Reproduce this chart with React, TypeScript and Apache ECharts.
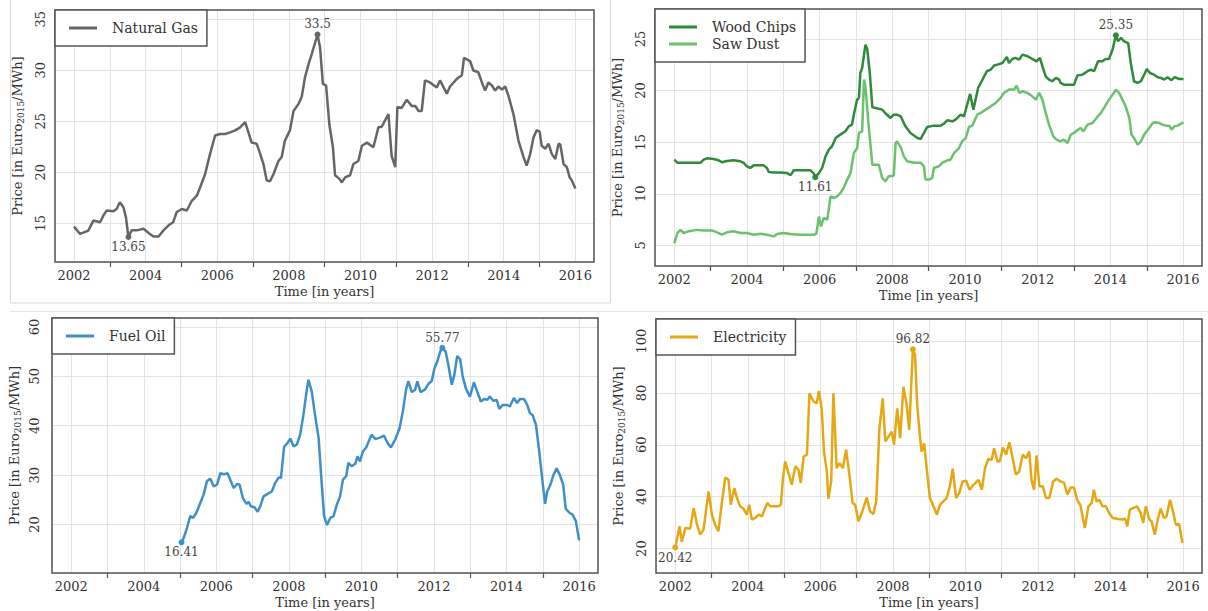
import React, { useEffect, useRef } from "react";
import * as echarts from "echarts";

const FONT = "DejaVu Serif";

const naturalGas: [number, number][] = [[2002.00,14.67],[2002.17,13.95],[2002.40,14.28],[2002.54,15.26],[2002.73,15.1],[2002.82,15.75],[2002.91,16.24],[2003.10,16.18],[2003.19,16.4],[2003.28,17.06],[2003.38,16.57],[2003.45,15.6],[2003.52,13.65],[2003.61,14.3],[2003.75,14.3],[2003.94,14.45],[2004.12,13.95],[2004.22,13.7],[2004.36,13.7],[2004.50,14.3],[2004.64,14.8],[2004.77,15.1],[2004.87,16.1],[2005.01,16.4],[2005.15,16.25],[2005.29,17.2],[2005.43,17.7],[2005.52,18.5],[2005.66,19.8],[2005.80,21.8],[2005.94,23.6],[2006.08,23.75],[2006.22,23.75],[2006.36,23.9],[2006.50,24.1],[2006.64,24.4],[2006.78,24.9],[2006.87,23.9],[2006.96,22.9],[2007.10,22.8],[2007.20,21.8],[2007.29,20.8],[2007.38,19.2],[2007.47,19.1],[2007.57,19.8],[2007.71,21.1],[2007.80,21.5],[2007.89,23.1],[2008.03,24.1],[2008.13,26.0],[2008.27,26.7],[2008.36,27.4],[2008.45,29.3],[2008.55,30.6],[2008.64,31.6],[2008.80,33.5],[2008.87,32.25],[2008.95,28.66],[2009.04,28.5],[2009.13,24.7],[2009.23,22.45],[2009.29,19.7],[2009.41,19.35],[2009.48,19.0],[2009.57,19.5],[2009.71,19.7],[2009.80,20.8],[2009.94,21.1],[2010.04,22.6],[2010.18,22.9],[2010.36,22.45],[2010.50,24.4],[2010.59,24.45],[2010.69,25.1],[2010.78,25.7],[2010.87,21.6],[2010.97,20.5],[2011.03,26.4],[2011.15,26.3],[2011.29,27.1],[2011.43,26.5],[2011.53,26.5],[2011.62,26.0],[2011.71,26.0],[2011.80,29.0],[2011.94,28.8],[2012.13,28.3],[2012.22,29.0],[2012.41,27.7],[2012.50,28.4],[2012.69,29.15],[2012.83,29.5],[2012.89,31.2],[2013.06,30.9],[2013.15,29.97],[2013.29,29.8],[2013.39,28.8],[2013.48,28.0],[2013.57,28.8],[2013.67,28.5],[2013.76,28.0],[2013.85,28.4],[2013.95,28.1],[2014.04,28.4],[2014.13,27.5],[2014.27,25.7],[2014.41,23.1],[2014.55,21.5],[2014.64,20.65],[2014.74,21.8],[2014.83,23.4],[2014.92,24.1],[2015.00,24.0],[2015.06,22.6],[2015.16,22.3],[2015.25,22.8],[2015.34,21.8],[2015.44,21.3],[2015.53,22.8],[2015.58,22.7],[2015.67,20.8],[2015.76,20.5],[2015.84,19.5],[2015.90,19.2],[2016.00,18.4]];

const woodChips: [number, number][] = [[2002.00,13.3],[2002.09,13.0],[2002.44,13.0],[2002.72,13.0],[2002.81,13.3],[2002.90,13.43],[2003.08,13.37],[2003.22,13.24],[2003.31,13.05],[2003.45,13.18],[2003.63,13.24],[2003.82,13.14],[2003.91,13.0],[2004.00,12.66],[2004.09,12.5],[2004.19,12.75],[2004.32,12.75],[2004.46,12.75],[2004.55,12.5],[2004.60,12.1],[2004.74,12.07],[2004.92,12.07],[2005.10,12.0],[2005.20,11.8],[2005.29,12.27],[2005.47,12.27],[2005.65,12.27],[2005.75,12.27],[2005.84,11.95],[2005.88,11.61],[2005.98,12.0],[2006.07,12.5],[2006.16,13.6],[2006.25,14.27],[2006.34,14.6],[2006.44,15.4],[2006.57,15.73],[2006.71,16.05],[2006.80,16.53],[2006.89,16.7],[2006.94,17.66],[2007.03,19.1],[2007.08,19.3],[2007.12,21.7],[2007.17,22.2],[2007.26,24.45],[2007.31,24.0],[2007.38,21.7],[2007.45,18.4],[2007.54,18.3],[2007.72,18.15],[2007.81,17.8],[2007.95,17.34],[2008.04,17.66],[2008.13,17.66],[2008.23,17.5],[2008.36,16.53],[2008.50,15.89],[2008.69,15.4],[2008.78,15.31],[2008.87,15.89],[2008.96,16.47],[2009.14,16.6],[2009.33,16.6],[2009.42,16.79],[2009.51,17.12],[2009.65,17.02],[2009.74,17.18],[2009.88,17.67],[2009.97,17.5],[2010.14,19.67],[2010.23,18.15],[2010.36,20.25],[2010.48,21.06],[2010.60,21.87],[2010.71,22.03],[2010.80,22.42],[2010.89,22.51],[2011.03,22.67],[2011.15,23.26],[2011.21,22.67],[2011.30,23.06],[2011.39,23.16],[2011.49,23.0],[2011.58,23.48],[2011.72,23.32],[2011.85,23.06],[2011.97,22.83],[2012.06,23.16],[2012.13,22.35],[2012.22,21.38],[2012.31,21.06],[2012.40,20.9],[2012.50,21.22],[2012.59,21.06],[2012.63,20.74],[2012.72,20.57],[2012.82,20.57],[2013.00,20.57],[2013.09,21.45],[2013.23,21.54],[2013.37,21.87],[2013.46,22.03],[2013.55,21.87],[2013.66,22.83],[2013.78,22.83],[2013.87,23.06],[2013.96,23.06],[2014.06,23.97],[2014.15,25.35],[2014.21,24.77],[2014.29,25.1],[2014.38,24.77],[2014.49,24.6],[2014.56,22.67],[2014.65,20.9],[2014.75,20.74],[2014.84,20.9],[2014.93,21.54],[2015.00,22.09],[2015.09,21.7],[2015.20,21.54],[2015.30,21.28],[2015.39,21.22],[2015.48,21.06],[2015.57,21.28],[2015.68,21.0],[2015.77,21.3],[2015.89,21.12],[2016.01,21.12]];

const sawDust: [number, number][] = [[2002.00,5.2],[2002.09,6.2],[2002.17,6.5],[2002.26,6.2],[2002.39,6.36],[2002.62,6.5],[2002.81,6.45],[2003.04,6.45],[2003.18,6.26],[2003.31,6.03],[2003.45,6.26],[2003.63,6.36],[2003.82,6.2],[2004.00,6.2],[2004.19,6.03],[2004.37,6.13],[2004.55,6.03],[2004.74,5.87],[2004.83,6.1],[2005.01,6.2],[2005.20,6.1],[2005.47,6.03],[2005.65,6.03],[2005.84,6.03],[2005.91,6.13],[2005.98,7.8],[2006.04,6.84],[2006.11,7.65],[2006.21,7.5],[2006.30,9.75],[2006.39,9.6],[2006.48,9.75],[2006.57,10.07],[2006.66,10.56],[2006.76,11.37],[2006.85,12.0],[2006.94,13.95],[2007.03,14.4],[2007.08,15.9],[2007.17,16.05],[2007.22,21.06],[2007.26,20.4],[2007.35,16.53],[2007.45,12.82],[2007.54,12.82],[2007.63,12.82],[2007.72,11.53],[2007.81,11.2],[2007.90,11.7],[2008.04,11.75],[2008.09,14.9],[2008.13,15.08],[2008.23,14.5],[2008.32,13.6],[2008.41,13.14],[2008.59,13.0],[2008.78,13.0],[2008.87,12.66],[2008.91,11.37],[2009.01,11.37],[2009.10,11.53],[2009.14,12.5],[2009.28,12.66],[2009.37,13.0],[2009.51,13.24],[2009.60,13.3],[2009.70,13.95],[2009.83,14.4],[2009.92,15.08],[2010.02,15.4],[2010.11,16.47],[2010.20,16.6],[2010.34,17.67],[2010.43,17.83],[2010.57,18.15],[2010.71,18.47],[2010.84,18.8],[2010.98,19.28],[2011.07,19.77],[2011.21,20.09],[2011.35,20.09],[2011.42,20.48],[2011.49,19.77],[2011.58,19.93],[2011.72,19.77],[2011.85,19.44],[2011.95,19.12],[2012.04,19.77],[2012.13,19.12],[2012.22,17.83],[2012.31,16.7],[2012.43,15.56],[2012.52,15.24],[2012.62,15.08],[2012.72,15.24],[2012.82,14.92],[2012.91,15.73],[2013.00,15.89],[2013.09,16.15],[2013.18,16.37],[2013.26,16.05],[2013.37,16.7],[2013.51,16.86],[2013.64,17.44],[2013.74,17.83],[2013.85,18.47],[2013.96,19.12],[2014.06,19.6],[2014.15,20.09],[2014.24,19.77],[2014.33,19.12],[2014.42,18.47],[2014.52,17.34],[2014.58,15.73],[2014.65,15.4],[2014.75,14.76],[2014.84,15.08],[2014.93,15.73],[2015.07,16.37],[2015.16,16.86],[2015.25,16.92],[2015.34,16.86],[2015.43,16.7],[2015.53,16.6],[2015.62,16.6],[2015.68,16.2],[2015.76,16.53],[2015.85,16.6],[2015.94,16.79],[2016.01,16.92]];

const fuelOil: [number, number][] = [[2005.04,16.41],[2005.10,17.3],[2005.19,19.3],[2005.28,21.7],[2005.36,21.35],[2005.45,22.4],[2005.56,24.4],[2005.65,26.1],[2005.74,28.75],[2005.83,29.3],[2005.93,27.7],[2006.02,28.1],[2006.11,30.4],[2006.22,30.2],[2006.31,30.4],[2006.40,28.75],[2006.48,27.4],[2006.57,28.2],[2006.64,28.1],[2006.73,25.4],[2006.83,24.2],[2006.89,24.6],[2006.95,23.7],[2007.05,23.5],[2007.14,22.6],[2007.21,23.7],[2007.30,25.7],[2007.39,26.1],[2007.53,26.7],[2007.62,28.4],[2007.72,29.56],[2007.78,29.4],[2007.87,35.8],[2007.96,36.5],[2008.04,37.4],[2008.13,35.8],[2008.22,36.2],[2008.31,38.2],[2008.40,42.2],[2008.50,47.6],[2008.54,49.3],[2008.63,46.9],[2008.72,42.2],[2008.82,37.5],[2008.88,30.8],[2008.97,21.7],[2009.05,19.9],[2009.14,21.35],[2009.23,21.7],[2009.32,24.0],[2009.41,25.7],[2009.49,29.1],[2009.58,29.8],[2009.64,32.5],[2009.73,31.8],[2009.83,32.3],[2009.89,33.8],[2009.96,32.8],[2010.04,34.8],[2010.13,35.6],[2010.28,38.2],[2010.38,37.3],[2010.51,37.6],[2010.62,38.0],[2010.72,36.5],[2010.81,35.6],[2010.93,37.2],[2011.05,39.5],[2011.14,42.9],[2011.23,47.3],[2011.29,49.0],[2011.39,46.8],[2011.48,47.3],[2011.54,49.0],[2011.63,46.8],[2011.75,47.3],[2011.84,48.4],[2011.94,49.1],[2012.01,51.6],[2012.09,53.0],[2012.17,55.0],[2012.23,55.77],[2012.32,55.0],[2012.39,52.5],[2012.49,48.3],[2012.56,50.3],[2012.64,54.1],[2012.72,53.5],[2012.79,50.0],[2012.88,47.5],[2012.99,45.9],[2013.10,48.8],[2013.19,46.9],[2013.29,44.9],[2013.38,45.4],[2013.47,45.25],[2013.54,45.9],[2013.63,45.05],[2013.73,45.2],[2013.80,43.4],[2013.89,44.2],[2014.00,44.2],[2014.09,43.9],[2014.20,45.6],[2014.29,44.6],[2014.37,45.4],[2014.48,45.4],[2014.57,44.2],[2014.64,42.6],[2014.72,42.1],[2014.81,40.2],[2014.90,34.8],[2014.99,28.75],[2015.06,24.2],[2015.12,26.7],[2015.21,28.1],[2015.29,30.0],[2015.38,31.4],[2015.47,30.0],[2015.56,28.1],[2015.63,23.2],[2015.73,22.4],[2015.82,22.0],[2015.91,20.7],[2016.00,16.8]];

const electricity: [number, number][] = [[2002.00,20.42],[2002.12,28.6],[2002.18,22.6],[2002.28,27.9],[2002.41,27.7],[2002.51,35.6],[2002.60,29.2],[2002.69,25.4],[2002.78,27.3],[2002.92,42.05],[2003.01,33.1],[2003.10,29.2],[2003.19,26.7],[2003.29,38.2],[2003.38,47.4],[2003.47,46.5],[2003.53,36.9],[2003.63,43.3],[2003.70,39.5],[2003.79,36.3],[2003.88,35.4],[2003.97,33.1],[2004.04,36.9],[2004.11,31.2],[2004.20,31.8],[2004.30,33.1],[2004.39,32.4],[2004.48,35.6],[2004.54,37.6],[2004.62,36.3],[2004.71,36.3],[2004.85,36.3],[2004.91,36.9],[2004.97,47.2],[2005.03,53.6],[2005.12,49.1],[2005.21,44.6],[2005.31,51.7],[2005.40,50.4],[2005.46,45.3],[2005.54,55.5],[2005.63,56.2],[2005.70,79.9],[2005.81,76.7],[2005.90,76.0],[2005.96,80.8],[2006.04,73.5],[2006.10,57.4],[2006.18,49.7],[2006.22,39.2],[2006.30,45.9],[2006.36,79.9],[2006.45,51.0],[2006.53,52.9],[2006.62,51.0],[2006.71,58.1],[2006.80,48.5],[2006.89,37.6],[2006.96,36.9],[2007.05,30.5],[2007.14,33.7],[2007.28,39.7],[2007.37,34.4],[2007.46,33.3],[2007.54,38.2],[2007.63,66.4],[2007.72,77.9],[2007.79,61.3],[2007.88,63.2],[2007.97,65.1],[2008.03,60.0],[2008.12,74.1],[2008.20,62.6],[2008.29,82.4],[2008.38,75.4],[2008.45,65.8],[2008.55,96.82],[2008.61,94.6],[2008.67,75.4],[2008.75,62.6],[2008.79,57.4],[2008.86,60.6],[2008.93,51.0],[2009.02,39.5],[2009.12,36.3],[2009.21,33.1],[2009.30,36.9],[2009.39,38.2],[2009.48,39.5],[2009.57,44.0],[2009.65,50.8],[2009.74,39.5],[2009.83,41.4],[2009.92,45.9],[2010.02,46.2],[2010.11,42.7],[2010.22,44.6],[2010.36,46.5],[2010.45,42.7],[2010.54,51.0],[2010.63,54.6],[2010.72,54.2],[2010.79,58.7],[2010.88,53.6],[2010.95,53.8],[2011.03,59.0],[2011.12,56.2],[2011.21,61.0],[2011.30,54.9],[2011.39,48.5],[2011.48,49.7],[2011.58,56.2],[2011.67,54.9],[2011.76,57.4],[2011.82,46.5],[2011.89,42.7],[2011.96,55.9],[2012.04,44.0],[2012.13,44.0],[2012.22,39.5],[2012.31,39.5],[2012.42,45.9],[2012.51,46.9],[2012.62,45.9],[2012.72,45.3],[2012.81,40.8],[2012.90,43.6],[2012.99,43.6],[2013.08,38.8],[2013.17,36.7],[2013.29,27.9],[2013.39,36.3],[2013.48,37.6],[2013.54,42.7],[2013.61,38.2],[2013.69,38.8],[2013.78,36.3],[2013.87,36.3],[2013.96,33.7],[2014.06,31.8],[2014.21,31.4],[2014.33,31.2],[2014.40,31.6],[2014.46,28.6],[2014.53,35.0],[2014.62,35.6],[2014.73,36.3],[2014.83,33.7],[2014.90,29.9],[2014.97,36.3],[2015.07,31.2],[2015.13,30.5],[2015.22,25.4],[2015.31,31.8],[2015.38,35.4],[2015.47,31.8],[2015.54,32.4],[2015.64,38.8],[2015.73,33.7],[2015.80,29.2],[2015.89,29.5],[2015.98,22.2]];

const xRange = [2001.47, 2016.52];
const yRanges = [[11.2, 35.9], [3.0, 27.9], [10.2, 61.8], [10.6, 108.5]];
const xTitle = "Time [in years]";
const yTitle = "{a|Price [in Euro}{b|2015}{a|/MWh]}";

const COLORS = {
  gas: "#666666",
  wood: "#2f8a3c",
  saw: "#6cc16f",
  oil: "#3f8fc9",
  elec: "#e6a714",
};

const grids = [
  { left: 55, top: 10, width: 539, height: 252 },
  { left: 655, top: 9, width: 547, height: 257 },
  { left: 52, top: 318, width: 546, height: 255 },
  { left: 656, top: 319, width: 546, height: 254 },
];
const yLabelMargins = [8, 8, 11, 8];

const GRID_COLOR = "#e4e4e4";
const FRAME = "#555";

function buildOption() {
  const xAxis = grids.map((_, i) => ({
    type: "value",
    gridIndex: i,
    min: xRange[0],
    max: xRange[1],
    splitNumber: 7,
    axisLine: { show: false },
    axisTick: { show: false },
    minorTick: { show: true, splitNumber: 2, length: 5, lineStyle: { color: FRAME, width: 1.2 } },
    splitLine: { show: true, lineStyle: { color: GRID_COLOR, width: 1 } },
    minorSplitLine: { show: true, lineStyle: { color: GRID_COLOR, width: 1 } },
    axisLabel: {
      showMinLabel: false,
      showMaxLabel: false,
      fontFamily: FONT,
      fontSize: 13,
      color: "#333",
      margin: 7,
      formatter: (v: number) => String(Math.round(v)),
    },
    name: xTitle,
    nameLocation: "middle",
    nameGap: 23,
    nameTextStyle: { fontFamily: FONT, fontSize: 13, color: "#333" },
  }));

  const yAxis = grids.map((_, i) => ({
    type: "value",
    gridIndex: i,
    min: yRanges[i][0],
    max: yRanges[i][1],
    axisLine: { show: false },
    axisTick: { show: false },
    splitLine: { show: true, lineStyle: { color: GRID_COLOR, width: 1 } },
    axisLabel: {
      rotate: 90,
      showMinLabel: false,
      showMaxLabel: false,
      fontFamily: FONT,
      fontSize: 13,
      color: "#333",
      margin: yLabelMargins[i],
    },
    name: yTitle,
    nameLocation: "middle",
    nameGap: 30,
    nameTextStyle: {
      rich: {
        a: { fontFamily: FONT, fontSize: 13, color: "#333", lineHeight: 16, verticalAlign: "middle" },
        b: { fontFamily: FONT, fontSize: 9, color: "#333", lineHeight: 10, verticalAlign: "bottom" },
      },
    },
  }));

  const mpLabel = {
    color: "#444",
    fontFamily: FONT,
    fontSize: 12,
    formatter: (p: any) => String(p.value),
  };
  const markPoints = (color: string) => ({
    symbol: "circle",
    symbolSize: 6,
    itemStyle: { color },
    label: mpLabel,
    data: [
      { type: "max", valueDim: "y", label: { position: "top", distance: 1 } },
      { type: "min", valueDim: "y", label: { position: "bottom", distance: 1 } },
    ],
  });

  const line = (name: string, data: [number, number][], color: string, idx: number, mark: boolean) => ({
    type: "line",
    name,
    data,
    xAxisIndex: idx,
    yAxisIndex: idx,
    symbol: "none",
    showSymbol: false,
    lineStyle: { width: 2.5, color },
    itemStyle: { color },
    z: 3,
    markPoint: mark ? markPoints(color) : undefined,
  });

  const legendBase = {
    orient: "vertical",
    backgroundColor: "#fff",
    borderColor: FRAME,
    borderWidth: 1.5,
    borderRadius: 0,
    padding: [11, 9, 11, 14],
    itemWidth: 28,
    itemHeight: 3,
    itemGap: 3,
    icon: "rect",
    selectedMode: false,
    textStyle: { fontFamily: FONT, fontSize: 14, color: "#333", padding: [0, 0, 0, 10] },
    z: 10,
  };

  return {
    animation: false,
    backgroundColor: "#fff",
    grid: grids.map((g) => ({ ...g, show: true, borderColor: FRAME, borderWidth: 1.5, z: 5 })),
    xAxis,
    yAxis,
    legend: [
      { ...legendBase, data: ["Natural Gas"], left: 55, top: 10 },
      { ...legendBase, data: ["Wood Chips", "Saw Dust"], left: 655, top: 9 },
      { ...legendBase, data: ["Fuel Oil"], left: 52, top: 318 },
      { ...legendBase, data: ["Electricity"], left: 656, top: 319 },
    ],
    series: [
      line("Natural Gas", naturalGas, COLORS.gas, 0, true),
      line("Wood Chips", woodChips, COLORS.wood, 1, true),
      line("Saw Dust", sawDust, COLORS.saw, 1, false),
      line("Fuel Oil", fuelOil, COLORS.oil, 2, true),
      line("Electricity", electricity, COLORS.elec, 3, true),
    ],
    graphic: [
      {
        type: "rect",
        shape: { x: 10.5, y: -1, width: 600, height: 304 },
        style: { fill: "none", stroke: "#d9d9d9", lineWidth: 1 },
        silent: true,
        z: -1,
      },
      {
        type: "line",
        shape: { x1: 10, y1: 311.5, x2: 1208, y2: 311.5 },
        style: { stroke: "#e6e6e6", lineWidth: 1 },
        silent: true,
        z: -1,
      },
    ],
  };
}

export default function App() {
  const ref = useRef<HTMLDivElement>(null);
  useEffect(() => {
    if (!ref.current) return;
    const chart = echarts.init(ref.current, undefined, { renderer: "svg" });
    chart.setOption(buildOption() as any);
    return () => chart.dispose();
  }, []);
  return (
    <div
      ref={ref}
      style={{ position: "fixed", left: 0, top: 0, width: 1208, height: 611, background: "#fff" }}
    />
  );
}
